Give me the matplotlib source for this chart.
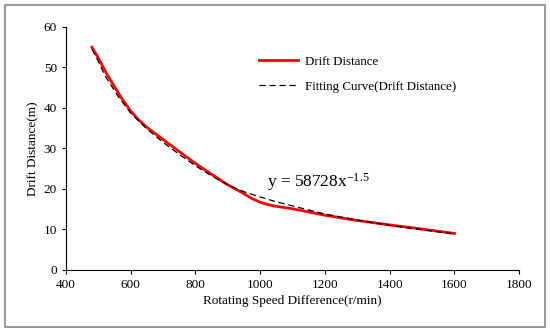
import matplotlib
matplotlib.use("Agg")
import matplotlib.pyplot as plt
from matplotlib.patches import Rectangle

plt.rcParams['font.family'] = ['Liberation Serif', 'DejaVu Serif']
plt.rcParams['mathtext.fontset'] = 'custom'
plt.rcParams['mathtext.rm'] = 'Liberation Serif'
plt.rcParams['mathtext.it'] = 'Liberation Serif'

# measured drift distance
speed = [480, 500, 525, 550, 575, 600, 625, 650, 700, 750, 800, 850, 900, 950, 975,
         1000, 1025, 1050, 1100, 1200, 1300, 1400, 1500, 1600]
drift = [55.0, 52.3, 48.5, 45.2, 42.0, 39.2, 37.0, 35.2, 32.2, 29.2, 26.3, 23.6, 21.0,
         18.8, 17.6, 16.7, 16.1, 15.7, 15.1, 13.5, 12.2, 11.1, 10.1, 9.0]

# fitting curve
fit_speed = [480, 500, 520, 540, 560, 600, 650, 700, 750, 800, 850, 900, 950, 1000,
             1050, 1100, 1200, 1300, 1400, 1500, 1600]
fit_drift = [54.5, 51.5, 48.0, 45.5, 43.0, 38.7, 34.8, 31.5, 28.5, 25.7, 23.2, 21.0, 19.3,
             18.0, 16.8, 15.8, 13.8, 12.3, 11.0, 9.9, 8.9]

x_ticks = [400, 600, 800, 1000, 1200, 1400, 1600, 1800]
y_ticks = [0, 10, 20, 30, 40, 50, 60]

fig = plt.figure(figsize=(5.5, 3.32), dpi=100)
ax = fig.add_axes([0.12, 0.187, 0.824, 0.732])

ax.plot(speed, drift, color='red', lw=2.0, label='Drift Distance', zorder=2)
ax.plot(fit_speed, fit_drift, color='black', lw=0.9, ls=(0, (5, 3)),
        label='Fitting Curve(Drift Distance)', zorder=3)

ax.text(1020, 21.8, 'y = 58728x$^{-1.5}$', fontsize=12.5, ha='left', va='center')

ax.set_xlim(400, 1800)
ax.set_ylim(0, 60)
ax.set_xticks(x_ticks)
ax.set_yticks(y_ticks)
ax.spines['top'].set_visible(False)
ax.spines['right'].set_visible(False)
ax.tick_params(labelsize=9.5, direction='out', length=3, width=0.8)
ax.set_xlabel('Rotating Speed Difference(r/min)', fontsize=9.5, labelpad=3)
ax.set_ylabel('Drift Distance(m)', fontsize=9.5, labelpad=3)

ax.legend(loc='upper left', bbox_to_anchor=(0.4, 0.93), frameon=False, fontsize=9.4,
          handlelength=3.0, labelspacing=1.0, handletextpad=0.5)

#grey frame around the whole picture
fig.patches.append(Rectangle((0.009, 0.015), 0.982, 0.97, transform=fig.transFigure,
                             fill=False, edgecolor='#888888', lw=1.2))

fig.savefig("out.png", dpi=100)
